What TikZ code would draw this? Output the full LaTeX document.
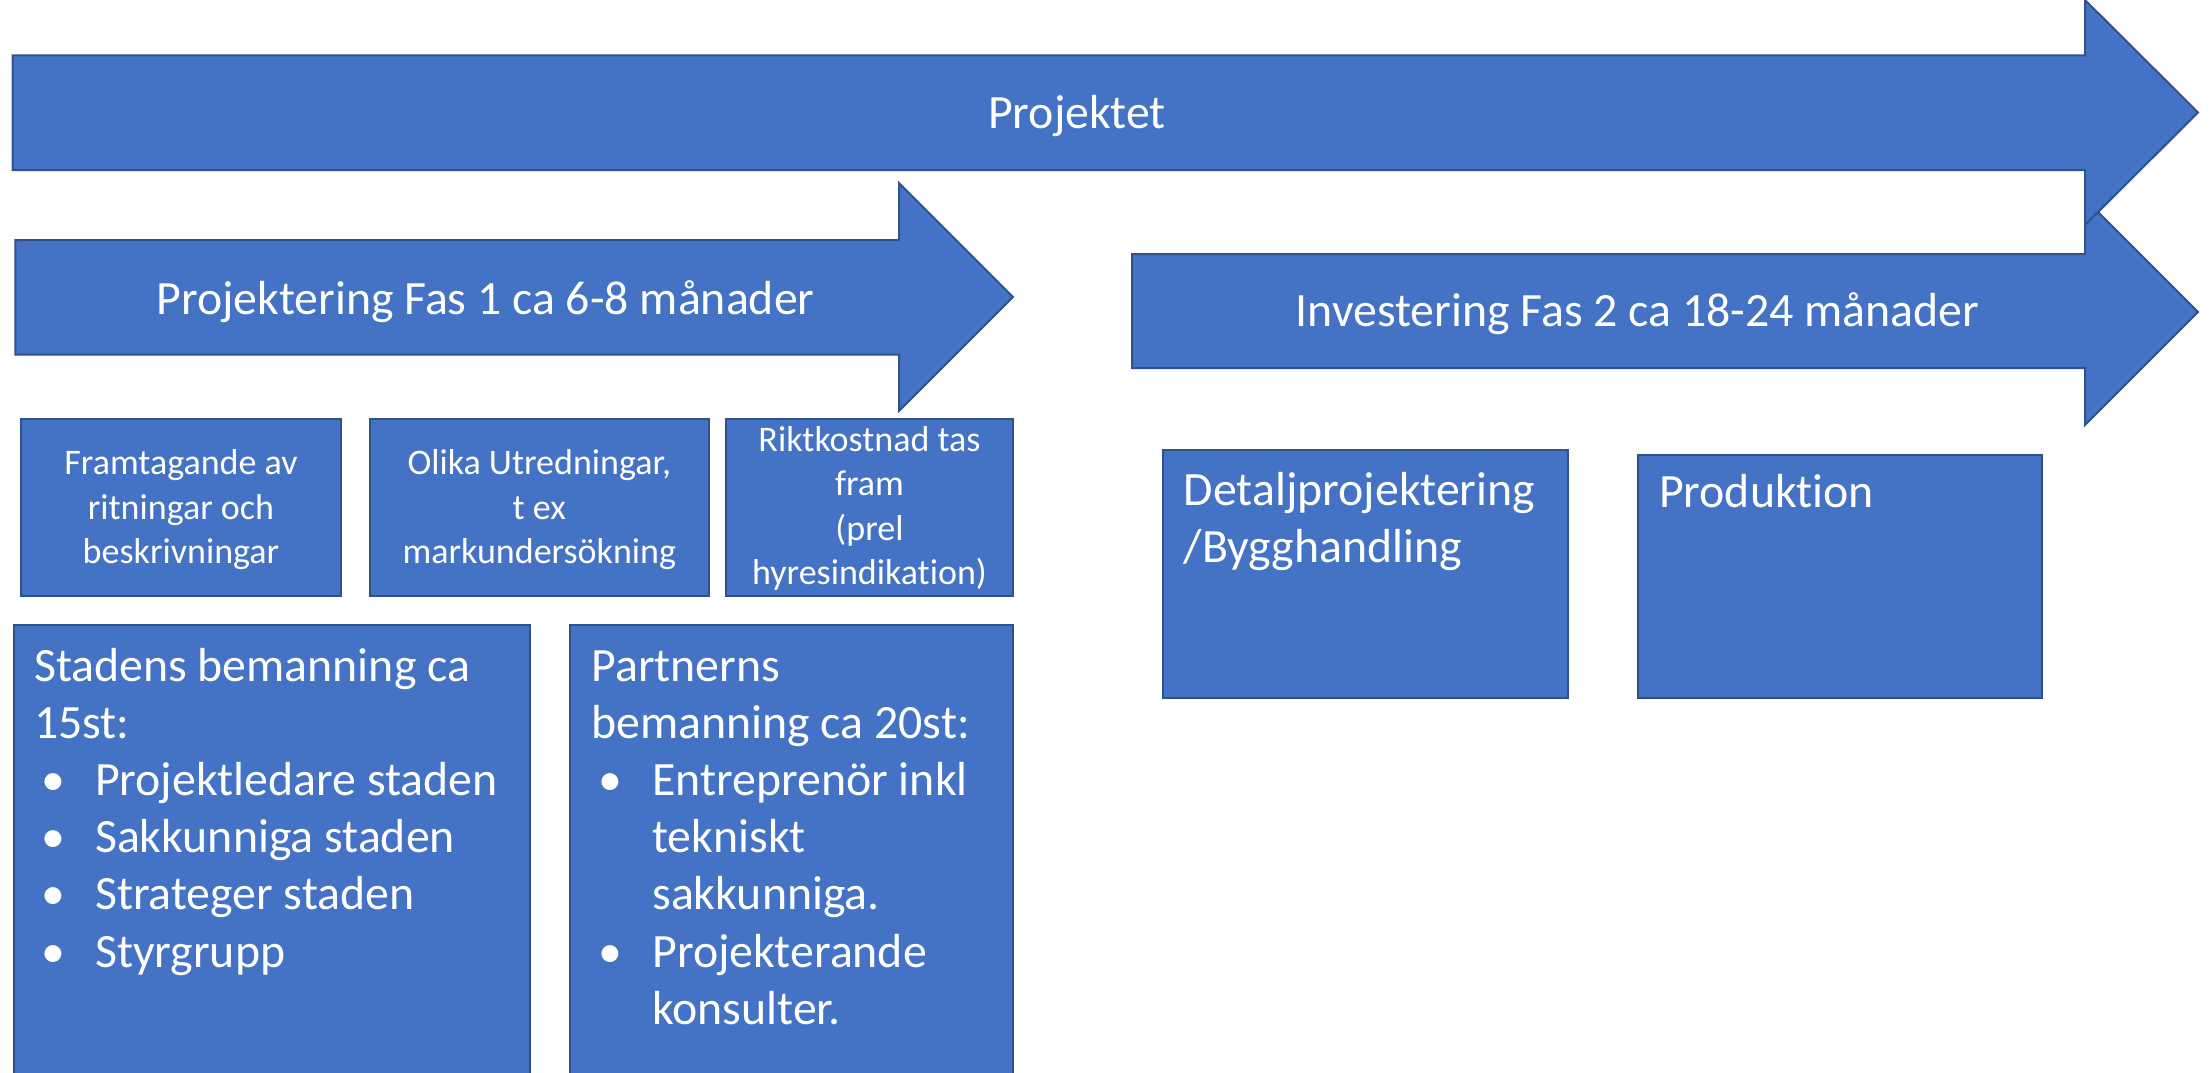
\documentclass[tikz,border=0pt]{standalone}
\usepackage{fontspec}
\setmainfont{Carlito}[Ligatures={NoCommon,NoContextual}]
\definecolor{boxfill}{HTML}{4472C4}
\definecolor{boxline}{HTML}{2F528F}
\tikzset{
  shapebox/.style={fill=boxfill, draw=boxline, line width=1pt},
  bigtxt/.style={text=white, inner sep=0pt, font=\fontsize{23.9}{28.5}\selectfont},
  smalltxt/.style={text=white, inner sep=0pt, font=\fontsize{18}{22.3}\selectfont},
  stafftxt/.style={text=white, inner sep=0pt, font=\fontsize{23.9}{28.5}\selectfont},
}
\newcommand{\bulitem}[1]{\makebox[3.5pt][l]{}\makebox[27pt][l]{•}#1}
\newcommand{\contitem}[1]{\hspace*{30.5pt}#1}
\begin{document}
\begin{tikzpicture}[x=0.5pt,y=-0.5pt]
\useasboundingbox (0,0) rectangle (2209,1072);
% Fas 2 arrow (behind Projektet)
\draw[shapebox] (1132,254) -- (2085,254) -- (2085,199) -- (2198,312) -- (2085,425) -- (2085,368) -- (1132,368) -- cycle;
% Projektet arrow
\draw[shapebox] (12.6,55.4) -- (2085,55.4) -- (2085,0) -- (2198,112.5) -- (2085,225) -- (2085,170) -- (12.6,170) -- cycle;
% Fas 1 arrow
\draw[shapebox] (15.4,240) -- (899,240) -- (899,183) -- (1013,297) -- (899,411) -- (899,354.7) -- (15.4,354.7) -- cycle;
\node[bigtxt, anchor=base] (projektet) at (1077,128.5) {Projektet};
\node[bigtxt, anchor=base] (fas1) at (485.5,314) {Projektering Fas 1 ca 6-8 månader};
\node[bigtxt, anchor=base] (fas2) at (1637.5,326) {Investering Fas 2 ca 18-24 månader};
% small boxes
\draw[shapebox] (21,419) rectangle (341,596);
\draw[shapebox] (370,419) rectangle (708.5,596);
\draw[shapebox] (726,419) rectangle (1013,596);
\node[smalltxt, anchor=base] (b1) at (181,474.5) {\parbox[t]{155pt}{\centering Framtagande av\\ritningar och\\beskrivningar}};
\node[smalltxt, anchor=base] (b2) at (539.3,474.5) {\parbox[t]{165pt}{\centering Olika Utredningar,\\t ex\\markundersökning}};
\node[smalltxt, anchor=base] (b3) at (869.5,451) {\parbox[t]{140pt}{\centering Riktkostnad tas\\fram\\(prel\\hyresindikation)}};
% phase 2 boxes
\draw[shapebox] (1163,450) rectangle (1567.5,698);
\draw[shapebox] (1637.5,454.5) rectangle (2042,698);
\node[bigtxt, anchor=base west] (detalj) at (1183.5,505) {\parbox[t]{200pt}{\baselineskip=28.5pt Detaljprojektering\\/Bygghandling}};
\node[bigtxt, anchor=base west] (prod) at (1658.7,507) {Produktion};
% staff boxes
\draw[shapebox] (14,625) rectangle (530,1090);
\draw[shapebox] (569.6,625) rectangle (1013,1090);
\node[stafftxt, anchor=base west] (stad) at (33.7,681) {\parbox[t]{250pt}{\raggedright\baselineskip=28.6pt
Stadens bemanning ca\\15st:\\\bulitem{Projektledare staden}\\\bulitem{Sakkunniga staden}\\\bulitem{Strateger staden}\\\bulitem{Styrgrupp}}};
\node[stafftxt, anchor=base west] (partner) at (591,681) {\parbox[t]{215pt}{\raggedright\baselineskip=28.6pt
Partnerns\\bemanning ca 20st:\\\bulitem{Entreprenör inkl}\\\contitem{tekniskt}\\\contitem{sakkunniga.}\\\bulitem{Projekterande}\\\contitem{konsulter.}}};
\end{tikzpicture}
\end{document}
